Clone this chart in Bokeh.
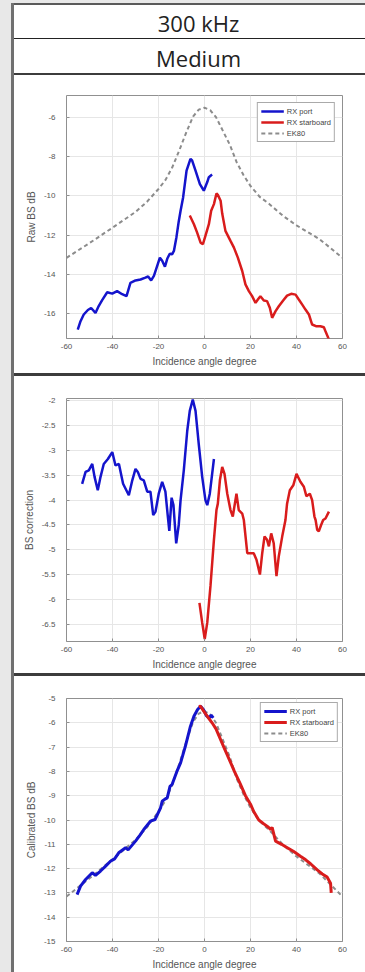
from bokeh.plotting import figure
from bokeh.models import Range1d, FixedTicker, NumeralTickFormatter, Legend, LegendItem, Spacer
from bokeh.layouts import column, row
from bokeh.embed import file_html
from bokeh.resources import INLINE
from bokeh.core.properties import value

# ---------------- data ----------------
header_labels = ["300 kHz", "Medium"]
x_ticks = [-60, -40, -20, 0, 20, 40, 60]

# EK80 reference curve (same in panels 1 and 3)
ek80_deg = [-60, -50, -40, -30, -25, -20, -17, -14, -11, -8, -5, -2.5, 0, 2.5, 5, 8, 11, 14, 17, 20, 24, 28,
            34.5, 40, 50, 60]
ek80_val = [-13.15, -12.4, -11.62, -10.82, -10.3, -9.65, -9.2, -8.55, -7.7, -6.8, -5.97, -5.62, -5.52, -5.65,
            -6.0, -6.7, -7.4, -8.3, -8.95, -9.5, -10.05, -10.4, -11.05, -11.5, -12.2, -13.15]

# Panel 1: raw BS
raw_port_deg = [-55.1, -53.9, -52.5, -50.7, -49.3, -47.4, -46.0, -44.5, -42.3, -40.1, -38.0, -35.8, -33.9, -32.2,
                -30.0, -27.8, -25.7, -24.5, -23.2, -22.0, -20.6, -19.4, -18.4, -17.2, -16.2, -15.1, -14.1, -13.3,
                -12.2, -11.2, -10.4, -9.3, -7.8, -6.1, -5.4, -3.9, -2.0, -0.3, 1.2, 1.9, 3.3]
raw_port_val = [-16.8, -16.37, -16.03, -15.8, -15.7, -15.95, -15.6, -15.3, -14.9, -14.97, -14.84, -15.0, -15.1, -14.42,
                -14.3, -14.25, -14.16, -14.1, -14.3, -14.07, -13.57, -13.14, -13.3, -13.6, -13.2, -12.94, -12.97, -12.8,
                -12.1, -11.3, -10.76, -10.08, -8.72, -8.12, -8.2, -8.72, -9.4, -9.74, -9.3, -9.05, -8.92]
raw_stbd_deg = [-6.4, -4.6, -3.2, -1.7, -0.7, 0.4, 1.9, 2.9, 4.1, 5.2, 5.8, 7.0, 7.7, 9.1, 11.3, 12.8, 14.5, 16.4,
                17.8, 19.3, 20.7, 22.2, 23.2, 24.3, 25.8, 27.2, 28.4, 29.4, 30.9, 32.3, 34.2, 35.9, 37.7, 39.6, 41.0,
                42.5, 43.9, 45.4, 46.8, 48.7, 50.4, 51.9, 52.6, 54.1]
raw_stbd_val = [-11.0, -11.44, -11.87, -12.38, -12.46, -12.03, -11.44, -10.76, -10.42, -9.88, -9.95, -10.25, -10.9,
                -11.78, -12.29, -12.63, -13.14, -13.82, -14.5, -14.84, -15.1, -15.44, -15.27, -15.1, -15.32, -15.35,
                -15.69, -16.2, -15.86, -15.61, -15.32, -15.07, -14.98, -15.02, -15.27, -15.53, -15.78, -16.03, -16.54,
                -16.63, -16.63, -16.68, -16.88, -17.3]

# Panel 2: BS correction
corr_port_deg = [-53.2, -51.7, -50.3, -48.8, -47.8, -46.4, -45.2, -43.8, -42.0, -40.1, -38.7, -37.2, -35.4, -32.9,
                 -31.4, -30.0, -29.0, -27.8, -26.4, -24.9, -23.5, -22.3, -21.3, -19.9, -18.4, -17.0, -16.0, -15.3,
                 -14.3, -13.5, -12.3, -11.2, -10.4, -9.0, -7.5, -6.4, -5.1, -3.9, -2.5, -1.0, 0.4, 1.2, 2.3, 4.1]
corr_port_val = [-3.67, -3.43, -3.4, -3.27, -3.53, -3.8, -3.53, -3.27, -3.17, -3.03, -3.3, -3.27, -3.67, -3.9,
                 -3.6, -3.37, -3.43, -3.57, -3.6, -3.83, -3.83, -4.3, -4.23, -3.87, -3.63, -3.83, -4.3, -4.62,
                 -3.95, -4.1, -4.87, -4.5, -4.0, -3.4, -2.6, -2.2, -1.97, -2.2, -2.87, -3.53, -4.0, -4.1, -3.87, -3.17]
corr_stbd_deg = [-2.2, -1.0, 0.1, 1.2, 2.6, 4.1, 5.2, 5.8, 6.7, 7.7, 8.7, 9.9, 11.3, 12.3, 13.9, 14.9, 16.4, 17.1,
                 18.6, 21.4, 22.6, 24.1, 25.1, 26.1, 27.2, 28.0, 29.0, 30.1, 31.3, 32.3, 33.8, 35.2, 35.9, 37.1,
                 38.6, 40.0, 41.7, 43.2, 44.3, 45.8, 46.8, 47.8, 48.3, 49.0, 49.7, 50.7, 51.6, 52.6, 54.1]
corr_stbd_val = [-6.07, -6.47, -6.8, -6.47, -5.73, -4.8, -4.2, -4.07, -3.6, -3.33, -3.47, -3.87, -4.2, -4.33,
                 -3.87, -4.2, -4.27, -4.4, -5.07, -5.07, -5.2, -5.5, -5.07, -4.73, -4.8, -4.93, -4.67, -4.87,
                 -5.53, -5.13, -4.73, -4.4, -4.07, -3.8, -3.7, -3.47, -3.63, -3.73, -3.92, -3.87, -4.0, -4.33,
                 -4.4, -4.6, -4.63, -4.5, -4.4, -4.37, -4.23]

# Panel 3: calibrated BS
cal_port_deg = [-55.4, -53.9, -51.7, -48.8, -47.4, -45.2, -43.0, -40.9, -39.1, -37.3, -34.3, -33.2, -30.0, -28.2,
                -26.4, -23.5, -21.5, -19.1, -18.4, -17.2, -16.2, -15.0, -14.1, -13.3, -12.0, -10.4, -8.3, -6.1,
                -4.6, -3.0, -1.7, -0.5, 0.8, 2.0, 2.9, 3.8]
cal_port_val = [-13.07, -12.72, -12.45, -12.17, -12.28, -12.1, -11.9, -11.7, -11.6, -11.35, -11.14, -11.23, -10.87,
                -10.64, -10.39, -10.05, -9.98, -9.5, -9.23, -9.14, -9.09, -8.62, -8.54, -8.33, -8.0, -7.65, -6.96,
                -6.14, -5.73, -5.45, -5.32, -5.45, -5.7, -5.8, -5.68, -5.8]
cal_stbd_deg = [-2.5, -1.7, -0.5, 1.2, 3.3, 5.0, 8.4, 10.5, 13.0, 15.5, 17.8, 20.0, 21.4, 23.6, 25.8, 27.8,
                28.7, 29.4, 30.9, 33.5, 36.0, 38.8, 41.7, 44.0, 46.1, 49.0, 51.2, 53.3, 54.8, 55.1]
cal_stbd_val = [-5.33, -5.32, -5.5, -5.73, -6.0, -6.25, -7.0, -7.45, -8.0, -8.5, -9.0, -9.35, -9.65,
                -10.0, -10.16, -10.3, -10.39, -10.3, -10.87, -11.0, -11.14, -11.3, -11.49, -11.64, -11.8, -12.05,
                -12.22, -12.35, -12.6, -13.0]

legend_labels = ["RX port", "RX starboard", "EK80"]

# ---------------- styles ----------------
BLUE = "#1414cc"
RED = "#d91c1c"
GREY = "#8c8c8c"
FONT = "Liberation Sans"
LIGHT = "#e8e8e8"
DARK = "#3c3c3c"
HEADER_CENTER = 198  # page pixel of the header text centre (table is wider than the picture)


def header_fig(label, h, text_y):
    p = figure(width=351, height=h, x_range=Range1d(66, 342), y_range=Range1d(0, h),
               x_axis_location=None, y_axis_location=None,
               output_backend="svg", toolbar_location=None,
               min_border_left=52, min_border_right=23, min_border_top=0, min_border_bottom=0,
               background_fill_color="white", border_fill_color="white")
    p.grid.visible = False
    p.outline_line_color = None
    p.text(x=[HEADER_CENTER], y=[text_y], text=[label], text_font=value("Open Sans"),
           text_font_size="22px", text_align="center", text_baseline="middle", text_color="#222222")
    return p


def panel(h, top, bottom, yr, yticks, ylabel):
    p = figure(width=351, height=h, x_range=Range1d(-60, 60), y_range=Range1d(*yr),
               output_backend="svg", toolbar_location=None,
               min_border_left=52, min_border_right=23, min_border_top=top, min_border_bottom=bottom,
               background_fill_color="white", border_fill_color="white")
    p.outline_line_color = "#909090"
    p.xaxis.ticker = FixedTicker(ticks=x_ticks)
    p.yaxis.ticker = FixedTicker(ticks=yticks)
    p.yaxis.formatter = NumeralTickFormatter(format="0.[0]")
    p.xaxis.formatter = NumeralTickFormatter(format="0")
    for ax in (p.xaxis[0], p.yaxis[0]):
        ax.axis_line_color = None
        ax.major_tick_in = 3
        ax.major_tick_out = 0
        ax.major_tick_line_color = "#909090"
        ax.minor_tick_line_color = None
        ax.major_label_text_font = FONT
        ax.major_label_text_font_size = "8px"
        ax.major_label_text_color = "#555555"
        ax.axis_label_text_font = FONT
        ax.axis_label_text_font_size = "10px"
        ax.axis_label_text_font_style = "normal"
        ax.axis_label_text_color = "#555555"
    p.xaxis.axis_label = "Incidence angle degree"
    p.yaxis.axis_label = ylabel
    p.xaxis.major_label_standoff = 5
    p.xaxis.axis_label_standoff = 4
    p.yaxis.major_label_standoff = 11
    p.yaxis.axis_label_standoff = 4
    p.grid.grid_line_color = "#e6e6e6"
    p.grid.grid_line_width = 1
    return p


def add_legend(p, items, margin):
    lg = Legend(items=items, location="top_right", margin=margin, padding=3, spacing=1,
                label_text_font=FONT, label_text_font_size="7.5px", label_text_color="#444444",
                label_height=10, glyph_height=10, glyph_width=23, label_standoff=3,
                border_line_color="#555555", border_line_width=1, background_fill_alpha=1)
    p.add_layout(lg)


# Panel 1
p1 = panel(298, 20, 35, (-17.25, -4.9), [-16, -14, -12, -10, -8, -6], "Raw BS dB")
r_ek1 = p1.line(ek80_deg, ek80_val, line_color=GREY, line_width=2, line_dash="4 3")
r_pb = p1.line(raw_port_deg, raw_port_val, line_color=BLUE, line_width=2.5)
r_pr = p1.line(raw_stbd_deg, raw_stbd_val, line_color=RED, line_width=2.5)
add_legend(p1, [LegendItem(label=legend_labels[0], renderers=[r_pb]),
                LegendItem(label=legend_labels[1], renderers=[r_pr]),
                LegendItem(label=legend_labels[2], renderers=[r_ek1])], 7)

# Panel 2
p2 = panel(297, 22, 32, (-6.85, -1.95), [-6.5, -6, -5.5, -5, -4.5, -4, -3.5, -3, -2.5, -2], "BS correction")
p2.line(corr_port_deg, corr_port_val, line_color=BLUE, line_width=2.5)
p2.line(corr_stbd_deg, corr_stbd_val, line_color=RED, line_width=2.5)

# Panel 3
p3 = panel(296, 22, 30, (-15, -5), [-15, -14, -13, -12, -11, -10, -9, -8, -7, -6, -5], "Calibrated BS dB")
r_ek3 = p3.line(ek80_deg, ek80_val, line_color=GREY, line_width=2, line_dash="4 3")
r_cb = p3.line(cal_port_deg, cal_port_val, line_color=BLUE, line_width=3)
r_cr = p3.line(cal_stbd_deg, cal_stbd_val, line_color=RED, line_width=3)
add_legend(p3, [LegendItem(label=legend_labels[0], renderers=[r_cb]),
                LegendItem(label=legend_labels[1], renderers=[r_cr]),
                LegendItem(label=legend_labels[2], renderers=[r_ek3])], 4)


def strip(w, h, color):
    return Spacer(width=w, height=h, margin=0, styles={"background-color": color})


main = column(
    strip(351, 3, LIGHT),
    strip(351, 2, "#5a5a5a"),
    header_fig(header_labels[0], 33, 15.2),
    strip(351, 1, "#222222"),
    header_fig(header_labels[1], 34, 15.6),
    strip(351, 2, DARK),
    p1,
    strip(351, 3, DARK),
    p2,
    strip(351, 3, DARK),
    p3,
    spacing=0,
)

left = column(strip(3, 3, LIGHT), strip(3, 969, "#707070"), spacing=0)
page = row(strip(11, 972, LIGHT), left, main, spacing=0)

open("out.html", "w").write(file_html(page, INLINE))
